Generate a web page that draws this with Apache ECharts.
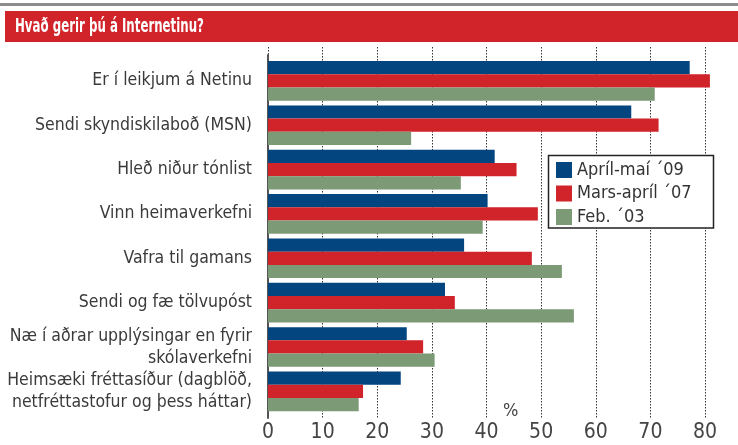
<!DOCTYPE html>
<html>
<head>
<meta charset="utf-8">
<script src="https://cdn.jsdelivr.net/npm/echarts@6/dist/echarts.min.js"></script>
<style>
html,body{margin:0;padding:0;background:#fff;}
#c{width:738px;height:445px;}
</style>
</head>
<body>
<div id="c"></div>
<script>
var title = 'Hvað gerir þú á Internetinu?';
var categories = [
  'Er í leikjum á Netinu',
  'Sendi skyndiskilaboð (MSN)',
  'Hleð niður tónlist',
  'Vinn heimaverkefni',
  'Vafra til gamans',
  'Sendi og fæ tölvupóst',
  'Næ í aðrar upplýsingar en fyrir\nskólaverkefni',
  'Heimsæki fréttasíður (dagblöð,\nnetfréttastofur og þess háttar)'
];
var seriesNames = ['Apríl-maí ´09', 'Mars-apríl ´07', 'Feb. ´03'];
var apr09 = [77.2, 66.5, 41.5, 40.2, 35.9, 32.4, 25.4, 24.3];
var mar07 = [80.9, 71.5, 45.5, 49.4, 48.3, 34.2, 28.4, 17.4];
var feb03 = [70.8, 26.2, 35.3, 39.3, 53.8, 56.0, 30.5, 16.6];
var xTicks = [0, 10, 20, 30, 40, 50, 60, 70, 80];
var unitLabel = '%';

var colors = ['#03457f', '#d1232a', '#7b9a75'];
var narrow = "'Liberation Sans Narrow', 'Arial Narrow', 'DejaVu Sans Condensed', sans-serif";

var chart = echarts.init(document.getElementById('c'), null, {renderer: 'canvas'});
var L = 268, R = 33;
var option = {
  animation: false,
  backgroundColor: '#fff',
  graphic: [
    {type: 'rect', shape: {x: 0, y: 3, width: 738, height: 3}, style: {fill: '#8c8c8c'}, z: 1},
    {type: 'rect', shape: {x: 5, y: 11, width: 733, height: 31}, style: {fill: '#d0232a'}, z: 1},
    {type: 'text', x: 15, y: 17, scaleX: 0.69, scaleY: 1.05, style: {text: title, fill: '#fff', font: 'bold 19px ' + narrow}, z: 2},
    {type: 'rect', shape: {x: 548.5, y: 155.5, width: 165, height: 72.5}, style: {fill: '#fff', stroke: '#222', lineWidth: 1.5}, z: 5},
    {type: 'text', left: 503, top: 402, style: {text: unitLabel, fill: '#444', font: '18px ' + narrow}, z: 5}
  ],
  legend: {
    data: seriesNames,
    orient: 'vertical',
    left: 556, top: 161,
    padding: 0,
    itemWidth: 16, itemHeight: 16, itemGap: 5.5,
    icon: 'rect',
    textStyle: {fontSize: 18, lineHeight: 16, color: '#333', fontFamily: narrow},
    z: 10
  },
  grid: [
    {left: L, right: R, top: 58.7, bottom: 31.5, outerBoundsMode: 'none', containLabel: false},
    {left: L, right: R, top: 47, bottom: 27, outerBoundsMode: 'none', containLabel: false},
    {left: L, right: R, top: 55, bottom: 27, outerBoundsMode: 'none', containLabel: false}
  ],
  xAxis: [
    {gridIndex: 0, type: 'value', min: 0, max: 80, interval: 10,
     axisLine: {show: false}, axisTick: {show: false}, splitLine: {show: false},
     axisLabel: {margin: 9, fontSize: 21, color: '#444', fontFamily: narrow,
       formatter: function (v) { return xTicks.indexOf(v) >= 0 ? String(v) : ''; }}},
    {gridIndex: 1, type: 'value', min: 0, max: 80, interval: 10,
     axisLine: {show: false}, axisTick: {show: false}, axisLabel: {show: false},
     splitLine: {show: true, lineStyle: {type: [1.5, 1.5], color: '#333', width: 1}}},
    {gridIndex: 2, type: 'value', min: 0, max: 80, show: false}
  ],
  yAxis: [
    {gridIndex: 0, type: 'category', data: categories, inverse: true,
     axisLine: {show: false}, axisTick: {show: false},
     axisLabel: {margin: 16, fontSize: 17.5, lineHeight: 22, color: '#3a3a3a', fontFamily: narrow, align: 'right'}},
    {gridIndex: 1, type: 'category', data: categories, show: false},
    {gridIndex: 2, type: 'category', data: categories, axisLabel: {show: false}, axisTick: {show: false},
     axisLine: {show: true, lineStyle: {color: '#555', width: 2}}}
  ],
  series: [
    {name: seriesNames[0], type: 'bar', data: apr09, barGap: '0%', barCategoryGap: '10.5%', clip: false, itemStyle: {color: colors[0]}, z: 3},
    {name: seriesNames[1], type: 'bar', data: mar07, barGap: '0%', barCategoryGap: '10.5%', clip: false, itemStyle: {color: colors[1]}, z: 3},
    {name: seriesNames[2], type: 'bar', data: feb03, barGap: '0%', barCategoryGap: '10.5%', clip: false, itemStyle: {color: colors[2]}, z: 3}
  ]
};
chart.setOption(option);
</script>
</body>
</html>
